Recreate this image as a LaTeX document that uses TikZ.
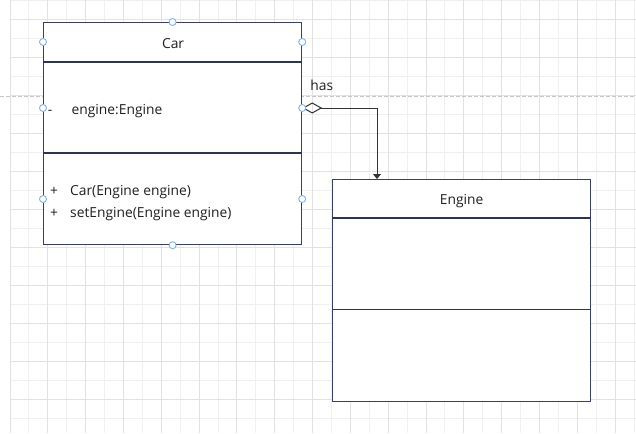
\documentclass[tikz,border=0pt]{standalone}
\usepackage{fontspec}
\setmainfont{Open Sans}
\usetikzlibrary{positioning,calc,backgrounds,arrows.meta}
\definecolor{boxline}{RGB}{58,62,104}
\definecolor{handleblue}{RGB}{126,178,240}
\definecolor{gridminor}{RGB}{240,240,240}
\definecolor{gridmajor}{RGB}{226,226,226}

\begin{document}
\begin{tikzpicture}[x=1pt, y=-1pt,
  umlbox/.style={draw=boxline, line width=1.2pt, fill=white, anchor=north west,
    minimum width=258pt, minimum height=222pt, inner sep=0pt},
  divider/.style={draw=boxline!80!black, line width=1.3pt},
  txt/.style={font=\fontsize{13.8}{16}\selectfont, text=black!88, inner sep=0pt},
  handle/.style={circle, draw=handleblue, fill=white, line width=0.9pt,
    minimum size=7pt, inner sep=0pt},
  hasline/.style={draw=black!80, line width=1pt,
    {Diamond[open, length=20pt, width=11pt]}-{Triangle[length=5pt, width=8pt]}}]
  \useasboundingbox (0,0) rectangle (636,433);
  \node[umlbox] (car) at (43,22) {};
  \node[umlbox] (engine) at (332,179) {};
  \draw[divider] ($(car.north west)+(0,40)$) -- ($(car.north east)+(0,40)$);
  \draw[divider] ($(car.north west)+(0,131)$) -- ($(car.north east)+(0,131)$);
  \draw[divider] ($(engine.north west)+(0,39)$) -- ($(engine.north east)+(0,39)$);
  \draw[divider] ($(engine.north west)+(0,130.5)$) -- ($(engine.north east)+(0,130.5)$);
  \node[txt, anchor=base] (cartitle) at ($(car.north)+(0.5,26.5)$) {Car};
  \node[txt, anchor=base] (enginetitle) at ($(engine.north)+(0,25.5)$) {Engine};
  \node[txt, anchor=base] (minus) at (50,114.5) {-};
  \node[txt, anchor=base west] (attr) at (71.5,114.5) {engine:Engine};
  \node[txt, anchor=base] (plusa) at (54,195.3) {+};
  \node[txt, anchor=base] (plusb) at (54,217.3) {+};
  \node[txt, anchor=base west] (ctor) at (70,195.3) {Car(Engine engine)};
  \node[txt, anchor=base west] (setter) at (70,217.3) {setEngine(Engine engine)};
  % aggregation
  \coordinate (hasfrom) at ($(car.north east)+(0,86)$);
  \coordinate (hasto) at ($(engine.north west)+(45,0)$);
  \draw[hasline] (hasfrom) -| (hasto);
  \node[txt, anchor=base west] (haslbl) at ($(hasfrom)+(8,-17)$) {has};
  % selection handles
  \foreach \p in {car.north, car.south}
    \node[handle] at (\p) {};
  \foreach \dy in {20,86,177}{
    \node[handle] at ($(car.north west)+(0,\dy)$) {};
    \node[handle] at ($(car.north east)+(0,\dy)$) {};
  }
  \begin{scope}[on background layer]
    \fill[white] (0,0) rectangle (636,433);
    \foreach \i in {0,...,33}
      \draw[gridminor, line width=0.9pt] ({10+18.91*\i},0) -- ({10+18.91*\i},433);
    \foreach \k in {0,...,22}
      \draw[gridminor, line width=0.9pt] (10,{0.3+19*\k}) -- (636,{0.3+19*\k});
    \foreach \i in {0,2,...,32}
      \draw[gridmajor, line width=0.9pt] ({10+18.91*\i},0) -- ({10+18.91*\i},433);
    \foreach \k in {1,3,...,21}
      \draw[gridmajor, line width=0.9pt] (10,{0.3+19*\k}) -- (636,{0.3+19*\k});
    \draw[black!22, line width=0.8pt, dash pattern=on 4pt off 2pt] (0,96) -- (636,96);
  \end{scope}
\end{tikzpicture}
\end{document}
